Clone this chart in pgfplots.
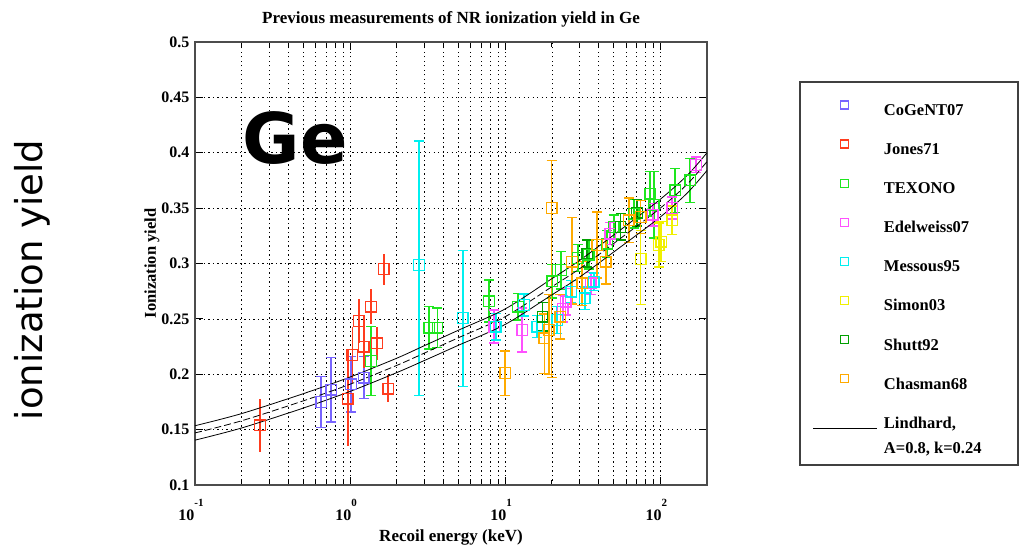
\documentclass[border=0pt]{standalone}
\usepackage{fontspec}
\setmainfont{Liberation Serif}
\newfontfamily\dejavu{DejaVu Sans}
\usepackage{pgfplots}
\pgfplotsset{compat=1.18}
\definecolor{cogent}{RGB}{120,100,255}
\definecolor{jones}{RGB}{255,60,30}
\definecolor{texono}{RGB}{30,230,30}
\definecolor{edel}{RGB}{255,80,255}
\definecolor{mess}{RGB}{0,240,240}
\definecolor{simon}{RGB}{240,240,0}
\definecolor{shutt}{RGB}{0,160,0}
\definecolor{chas}{RGB}{255,170,0}
\pgfplotsset{
  sqleg/.style={legend image code/.code={\path[draw=none,fill=none] (0pt,-7.5pt) rectangle (64pt,11.6pt); \draw[##1,mark size=4pt] plot coordinates {(31pt,7pt)};}},
  ds/.style={only marks, mark=square, mark size=5.3pt, color=#1, draw=#1, line width=1.3pt, mark options={solid, line width=1.3pt, draw=#1}, sqleg,
    error bars/y dir=both, error bars/y explicit,
    error bars/error bar style={line width=1.8pt, color=#1, draw=#1, solid},
    error bars/error mark options={rotate=90, mark size=5pt, line width=1.5pt, color=#1, draw=#1}},
}
\begin{document}
\begin{tikzpicture}
\path[use as bounding box] (0pt,0pt) rectangle (1021pt,547pt);
\begin{axis}[
  at={(195pt,62pt)}, anchor=south west,
  scale only axis, width=512pt, height=443pt,
  xmode=log, xmin=0.1, xmax=200, ymin=0.1, ymax=0.5,
  xtick={0.1,1,10,100},
  xticklabels={{10\raisebox{14pt}{\fontsize{11}{13}\selectfont -1}},{10\raisebox{14pt}{\fontsize{11}{13}\selectfont 0}},{10\raisebox{14pt}{\fontsize{11}{13}\selectfont 1}},{10\raisebox{14pt}{\fontsize{11}{13}\selectfont 2}}},
  minor xtick={0.2,0.3,0.4,0.5,0.6,0.7,0.8,0.9,2,3,4,5,6,7,8,9,20,30,40,50,60,70,80,90},
  ytick={0.1,0.15,0.2,0.25,0.3,0.35,0.4,0.45,0.5},
  yticklabels={0.1,0.15,0.2,0.25,0.3,0.35,0.4,0.45,0.5},
  xmajorgrids, xminorgrids, ymajorgrids,
  major grid style={black, line width=0.6pt, dash pattern=on 1.2pt off 3.3pt},
  minor grid style={black, line width=0.6pt, dash pattern=on 1.2pt off 3.3pt},
  axis line style={line width=1.3pt, black!70},
  major tick length=8pt, minor tick length=5pt,
  tick style={black, line width=0.8pt},
  ticklabel style={font=\fontsize{16}{19}\selectfont\bfseries},
  xticklabel style={yshift=-11pt, xshift=-4pt},
  yticklabel style={xshift=-2pt},
  title={Previous measurements of NR ionization yield in Ge},
  title style={at={(axis description cs:0.5,1.036)}, anchor=south, yshift=-11pt, font=\fontsize{17}{20}\selectfont\bfseries},
  xlabel={Recoil energy (keV)},
  xlabel style={at={(axis description cs:0.5,-0.1174)}, anchor=center, font=\fontsize{17}{20}\selectfont\bfseries},
  ylabel={Ionization yield},
  ylabel style={at={(axis description cs:-0.084,0.5)}, anchor=center, font=\fontsize{16.5}{20}\selectfont\bfseries},
  legend cell align=left,
  legend style={at={(axis description cs:1.207,0.8682)}, anchor=north west, draw=none, fill=none,
    inner sep=0pt, outer sep=0pt, row sep=20pt, column sep=6pt,
    font=\fontsize{16.5}{25}\selectfont\bfseries,
    nodes={inner sep=0pt, text height=11pt, text depth=4pt, anchor=west}},
]
% CoGeNT07
\addplot[ds=cogent] coordinates {
(0.651,0.175) +- (0,0.023)
(0.755,0.186) +- (0,0.029)
(1.015,0.191) +- (0,0.025)
(1.225,0.197) +- (0,0.019)
};
\addlegendentry{CoGeNT07}
% Jones71
\addplot[ds=jones, error bars/error mark=none] coordinates {
(0.262,0.154) +- (0,0.024)
(0.966,0.178) += (0,0.045) -= (0,0.043)
(1.035,0.2174) +- (0,0.025)
(1.137,0.248) +- (0,0.02)
(1.225,0.225) +- (0,0.019)
(1.365,0.261) +- (0,0.016)
(1.49,0.228) +- (0,0.015)
(1.65,0.295) +- (0,0.014)
(1.76,0.187) +- (0,0.012)
};
\addlegendentry{Jones71}
% TEXONO
\addplot[ds=texono] coordinates {
(1.365,0.212) +- (0,0.031)
(3.24,0.242) +- (0,0.019)
(3.66,0.242) +- (0,0.018)
(7.87,0.266) +- (0,0.019)
(12.1,0.261) +- (0,0.012)
(20.1,0.284) +- (0,0.015)
(22.9,0.294) +- (0,0.017)
(29.4,0.305) +- (0,0.012)
(34.6,0.308) +- (0,0.013)
(45.4,0.318) +- (0,0.012)
(50.0,0.333) +- (0,0.011)
(67.4,0.345) +- (0,0.013)
(86.3,0.363) +- (0,0.02)
(90.6,0.353) +- (0,0.03)
(124.8,0.366) +- (0,0.02)
(156,0.375) +- (0,0.02)
};
\addlegendentry{TEXONO}
% Edelweiss07
\addplot[ds=edel] coordinates {
(8.5,0.243) +- (0,0.015)
(12.9,0.24) +- (0,0.02)
(23.5,0.259) +- (0,0.012)
(24.5,0.2655) +- (0,0.012)
(35.6,0.282) +- (0,0.01)
(47.5,0.327) +- (0,0.01)
(89.3,0.344) +- (0,0.01)
(119.5,0.35) +- (0,0.01)
(170,0.389) +- (0,0.007)
};
\addlegendentry{Edelweiss07}
% Messous95
\addplot[ds=mess] coordinates {
(2.78,0.2986) += (0,0.112) -= (0,0.118)
(5.33,0.2508) += (0,0.061) -= (0,0.062)
(8.68,0.243) +- (0,0.012)
(13.2,0.2625) +- (0,0.01)
(16.1,0.243) +- (0,0.01)
(21.7,0.249) +- (0,0.012)
(26.7,0.2745) +- (0,0.01)
(32.5,0.2686) +- (0,0.01)
(37.2,0.2836) +- (0,0.008)
};
\addlegendentry{Messous95}
% Simon03
\addplot[ds=simon] coordinates {
(74.6,0.304) += (0,0.026) -= (0,0.041)
(97.7,0.3167) +- (0,0.02)
(101.3,0.3197) +- (0,0.018)
(119.5,0.339) +- (0,0.013)
};
\addlegendentry{Simon03}
% Shutt92
\addplot[ds=shutt] coordinates {
(17.4,0.252) +- (0,0.013)
(33.8,0.309) +- (0,0.012)
(55.4,0.333) +- (0,0.012)
(70.7,0.346) +- (0,0.012)
};
\addlegendentry{Shutt92}
% Chasman68
\addplot[ds=chas] coordinates {
(10.0,0.201) +- (0,0.02)
(17.9,0.2325) += (0,0.022) -= (0,0.032)
(19.1,0.24) += (0,0.032) -= (0,0.04)
(19.9,0.35) += (0,0.043) -= (0,0.153)
(22.7,0.252) +- (0,0.02)
(27.0,0.3016) += (0,0.04) -= (0,0.038)
(31.4,0.282) +- (0,0.02)
(39.2,0.3167) +- (0,0.03)
(44.4,0.3016) +- (0,0.02)
(62.6,0.339) +- (0,0.02)
(74.6,0.342) +- (0,0.015)
};
\addlegendentry{Chasman68}
% Lindhard band
\addplot[black, line width=0.8pt, smooth, mark=none,
  legend image code/.code={\path[draw=none,fill=none] (0pt,-7.5pt) rectangle (64pt,11.6pt); \draw[black, line width=1pt] (0pt,-3.5pt) -- (64pt,-3.5pt);}]
 coordinates {(0.1,0.1535) (0.2,0.1645) (0.5,0.1825) (1,0.1975) (2,0.2145) (3,0.2257) (5,0.2398) (10,0.259) (20,0.2863) (30,0.3025) (50,0.3257) (100,0.358) (150,0.380) (200,0.400)};
\addlegendentry{\vtop{\hbox{Lindhard,}\hbox{A=0.8, k=0.24}}}
\addplot[black, line width=0.8pt, smooth, mark=none, dash pattern=on 7pt off 3pt, forget plot]
 coordinates {(0.1,0.147) (0.2,0.158) (0.5,0.176) (1,0.191) (2,0.208) (3,0.219) (5,0.233) (10,0.252) (20,0.279) (30,0.295) (50,0.318) (100,0.350) (150,0.372) (200,0.392)};
\addplot[black, line width=0.8pt, smooth, mark=none, forget plot]
 coordinates {(0.1,0.1405) (0.2,0.1515) (0.5,0.1695) (1,0.1845) (2,0.2015) (3,0.2123) (5,0.2262) (10,0.245) (20,0.2717) (30,0.2875) (50,0.3103) (100,0.342) (150,0.364) (200,0.384)};
\end{axis}
\draw[line width=1.2pt, black!75] (800pt,82pt) rectangle (1018pt,465pt);
\node[font=\dejavu\bfseries\fontsize{70}{80}\selectfont] at (295pt,409pt) {Ge};
\node[font=\dejavu\fontsize{37}{44}\selectfont, rotate=90] at (32pt,267pt) {ionization yield};
\end{tikzpicture}
\end{document}
